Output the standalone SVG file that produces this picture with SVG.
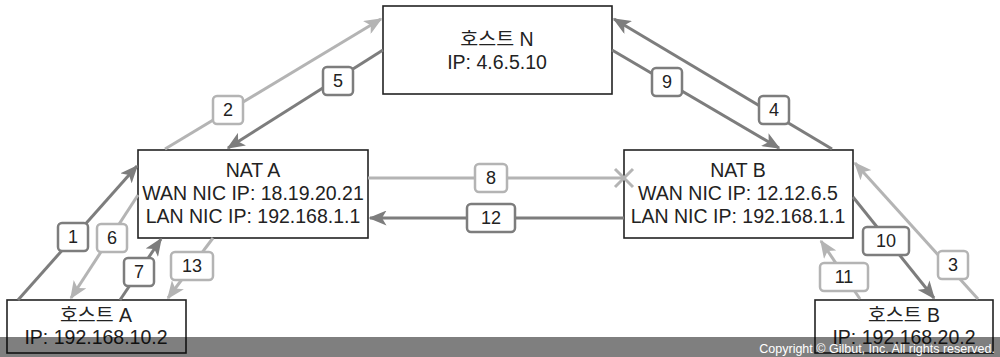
<svg xmlns="http://www.w3.org/2000/svg" width="1000" height="357" viewBox="0 0 1000 357">
<defs>
<style>
.box{fill:#fff;stroke:#222;stroke-width:1.6}
.t{font-family:"Liberation Sans","Noto Sans CJK KR",sans-serif;font-size:19.5px;fill:#222;text-anchor:middle}
.n{font-family:"Liberation Sans",sans-serif;font-size:18px;fill:#222;text-anchor:middle}
.dk{stroke:#7d7d7d;stroke-width:3;fill:none}
.lt{stroke:#b4b4b4;stroke-width:3;fill:none}
.lbd{fill:#fff;stroke:#7d7d7d;stroke-width:2.5}
.lbl{fill:#fff;stroke:#b4b4b4;stroke-width:2.5}
</style>
<marker id="ad" viewBox="0 0 12 10" refX="11" refY="5" markerWidth="6" markerHeight="5" orient="auto" markerUnits="strokeWidth">
<path d="M0,0 L12,5 L0,10 L3,5 z" fill="#7d7d7d"/>
</marker>
<marker id="al" viewBox="0 0 12 10" refX="11" refY="5" markerWidth="6" markerHeight="5" orient="auto" markerUnits="strokeWidth">
<path d="M0,0 L12,5 L0,10 L3,5 z" fill="#b4b4b4"/>
</marker>
</defs>
<rect width="1000" height="357" fill="#fff"/>
<g id="hostN">
<rect class="box" x="383" y="6" width="229" height="88"/>
<text class="t" x="497" y="46">호스트 N</text>
<text class="t" x="497" y="69">IP: 4.6.5.10</text>
</g>
<g id="natA">
<rect class="box" x="138" y="150" width="230" height="88"/>
<text class="t" x="253" y="177">NAT A</text>
<text class="t" x="253" y="200">WAN NIC IP: 18.19.20.21</text>
<text class="t" x="253" y="223">LAN NIC IP: 192.168.1.1</text>
</g>
<g id="natB">
<rect class="box" x="624" y="150" width="229" height="88"/>
<text class="t" x="738" y="177">NAT B</text>
<text class="t" x="738" y="200">WAN NIC IP: 12.12.6.5</text>
<text class="t" x="738" y="223">LAN NIC IP: 192.168.1.1</text>
</g>
<g id="hostA">
<rect class="box" x="7" y="300" width="179" height="53"/>
<text class="t" x="96" y="322">호스트 A</text>
<text class="t" x="96" y="344">IP: 192.168.10.2</text>
</g>
<g id="hostB">
<rect class="box" x="815" y="300" width="178" height="53"/>
<text class="t" x="904" y="322">호스트 B</text>
<text class="t" x="904" y="344">IP: 192.168.20.2</text>
</g>
<g id="connectors">
<line class="dk" x1="18" y1="300" x2="137" y2="166" marker-end="url(#ad)"/>
<line class="lt" x1="138" y1="195" x2="71" y2="298" marker-end="url(#al)"/>
<line class="dk" x1="120" y1="300" x2="161" y2="239" marker-end="url(#ad)"/>
<line class="lt" x1="213" y1="238" x2="168" y2="298" marker-end="url(#al)"/>
<line class="lt" x1="165" y1="149" x2="381" y2="19" marker-end="url(#al)"/>
<line class="dk" x1="383" y1="50" x2="228" y2="148" marker-end="url(#ad)"/>
<line class="dk" x1="612" y1="50" x2="779" y2="148" marker-end="url(#ad)"/>
<line class="dk" x1="832" y1="149" x2="614" y2="19" marker-end="url(#ad)"/>
<line class="lt" x1="368" y1="178" x2="624" y2="178"/>
<path class="lt" d="M615,169 L633,187 M615,187 L633,169" stroke-width="2"/>
<line class="dk" x1="624" y1="218" x2="370" y2="218" marker-end="url(#ad)"/>
<line class="dk" x1="853" y1="197" x2="934" y2="298" marker-end="url(#ad)"/>
<line class="lt" x1="978" y1="299" x2="855" y2="163" marker-end="url(#al)"/>
<line class="lt" x1="860" y1="299" x2="821" y2="241" marker-end="url(#al)"/>
<g id="labels">
<rect class="lbd" x="58" y="223" width="30" height="28" rx="4"/><text class="n" x="73" y="243">1</text>
<rect class="lbl" x="97" y="224" width="30" height="28" rx="4"/><text class="n" x="112" y="244">6</text>
<rect class="lbd" x="124" y="258" width="30" height="28" rx="4"/><text class="n" x="139" y="278">7</text>
<rect class="lbl" x="171" y="252" width="42" height="28" rx="4"/><text class="n" x="192" y="272">13</text>
<rect class="lbl" x="213" y="96" width="30" height="28" rx="4"/><text class="n" x="228" y="116">2</text>
<rect class="lbd" x="323" y="67" width="30" height="28" rx="4"/><text class="n" x="338" y="87">5</text>
<rect class="lbd" x="652" y="68" width="30" height="28" rx="4"/><text class="n" x="667" y="88">9</text>
<rect class="lbd" x="759" y="96" width="30" height="28" rx="4"/><text class="n" x="774" y="116">4</text>
<rect class="lbl" x="475" y="164" width="32" height="28" rx="4"/><text class="n" x="491" y="184">8</text>
<rect class="lbd" x="467" y="204" width="48" height="28" rx="4"/><text class="n" x="491" y="224">12</text>
<rect class="lbd" x="863" y="227" width="46" height="28" rx="4"/><text class="n" x="886" y="247">10</text>
<rect class="lbl" x="938" y="251" width="30" height="28" rx="4"/><text class="n" x="953" y="271">3</text>
<rect class="lbl" x="820" y="263" width="48" height="28" rx="4"/><text class="n" x="844" y="283">11</text>
</g>
</g>
<g id="copyright">
<rect x="0" y="337" width="1000" height="20" fill="#000" opacity="0.5"/>
<text x="995" y="353" font-family="Liberation Sans,sans-serif" font-size="12.5" fill="#fff" text-anchor="end">Copyright © Gilbut, Inc. All rights reserved.</text>
</g>
</svg>
